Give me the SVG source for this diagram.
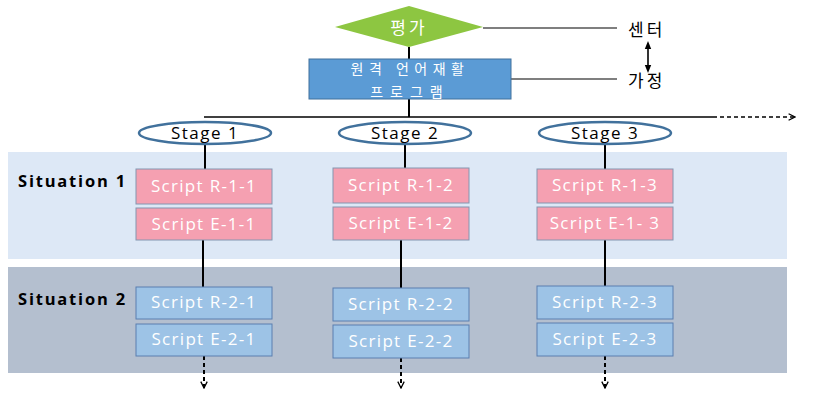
<svg xmlns="http://www.w3.org/2000/svg" width="829" height="406" viewBox="0 0 829 406">
<defs>
<marker id="ah" viewBox="0 0 10 10" refX="9" refY="5" markerWidth="8" markerHeight="8" orient="auto" markerUnits="userSpaceOnUse"><path d="M1,1 L9,5 L1,9" fill="none" stroke="#000" stroke-width="1.6"/></marker>
<marker id="ah2" viewBox="0 0 10 10" refX="5" refY="5" markerWidth="8" markerHeight="8" orient="auto-start-reverse" markerUnits="userSpaceOnUse"><path d="M0,1 L10,5 L0,9 Z" fill="#000"/></marker>
<style>
.ko{font-family:"Noto Sans CJK KR","Noto Sans",sans-serif;}
.lat{font-family:"Open Sans","Noto Sans",sans-serif;}
.pink{fill:#f5a0b1;stroke:#8496b0;stroke-width:1;}
.blue{fill:#9dc3e6;stroke:#5a7fb0;stroke-width:1;}
.st{fill:#fff;stroke:#41719c;stroke-width:2.5;}
.wt{fill:#fff;font-size:17px;text-anchor:middle;letter-spacing:1.3px;}
.bt{fill:#000;font-size:17px;text-anchor:middle;letter-spacing:1.5px;}
.sit{fill:#000;font-size:16.5px;font-weight:bold;letter-spacing:1.8px;}
.kw{fill:#fff;font-size:14px;text-anchor:middle;}
.kb{fill:#000;font-size:17px;letter-spacing:3px;}
.ln{stroke:#000;stroke-width:2;fill:none;}
.dl{stroke:#000;stroke-width:2;fill:none;stroke-dasharray:4 3;}
</style>
</defs>
<rect width="829" height="406" fill="#fff"/>
<g id="band1"><rect x="8" y="152" width="779" height="107" fill="#dde8f6"/><text x="18" y="187" class="lat sit">Situation 1</text></g>
<g id="band2"><rect x="8" y="267" width="779" height="106" fill="#b4bfcf"/><text x="18" y="305" class="lat sit">Situation 2</text></g>
<g id="connectors">
<line class="ln" x1="409" y1="47" x2="409" y2="59"/>
<line class="ln" x1="409" y1="99" x2="409" y2="117"/>
<line x1="483" y1="28" x2="617" y2="28" stroke="#000" stroke-width="1.2"/>
<line x1="511" y1="79" x2="617" y2="79" stroke="#000" stroke-width="1.2"/>
<line x1="648" y1="45" x2="648" y2="69" stroke="#000" stroke-width="1.6" marker-start="url(#ah2)" marker-end="url(#ah2)"/>
<line x1="204" y1="117" x2="713" y2="117" stroke="#000" stroke-width="1.6"/>
<line x1="713" y1="117" x2="795" y2="117" stroke="#000" stroke-width="1.4" stroke-dasharray="4 3" marker-end="url(#ah)"/>
<line class="ln" x1="205" y1="145" x2="205" y2="169"/>
<line class="ln" x1="405" y1="145" x2="405" y2="168"/>
<line class="ln" x1="605" y1="145" x2="605" y2="169"/>
<line class="ln" x1="203" y1="240" x2="203" y2="287" stroke-width="2.5"/>
<line class="ln" x1="401" y1="240" x2="401" y2="288" stroke-width="2.5"/>
<line class="ln" x1="605" y1="240" x2="605" y2="286"/>
<line class="dl" x1="204" y1="356" x2="204" y2="388" marker-end="url(#ah)"/>
<line class="dl" x1="401" y1="358" x2="401" y2="388" stroke-width="2.5" marker-end="url(#ah)"/>
<line class="dl" x1="605" y1="356" x2="605" y2="388" marker-end="url(#ah)"/>
</g>
<g id="eval"><polygon points="335,27 409,6 483,27 409,47" fill="#8dc641"/><text x="409" y="34" class="ko kw" style="font-size:17px;letter-spacing:3px">평가</text></g>
<g id="program"><rect x="309" y="59" width="202" height="40" fill="#5b9bd5" stroke="#41719c" stroke-width="1"/><text x="410" y="74" class="ko kw" style="letter-spacing:5.5px">원격 언어재활</text><text x="410" y="96.5" class="ko kw" style="letter-spacing:7px">프로그램</text></g>
<g id="center"><text x="628" y="36" class="ko kb">센터</text></g>
<g id="home"><text x="628" y="87" class="ko kb">가정</text></g>
<g id="stage1"><ellipse cx="205" cy="133" rx="66" ry="11" class="st"/><text x="205" y="139" class="lat bt">Stage 1</text></g>
<g id="stage2"><ellipse cx="405" cy="133" rx="66" ry="11" class="st"/><text x="405" y="139" class="lat bt">Stage 2</text></g>
<g id="stage3"><ellipse cx="605" cy="133" rx="66" ry="11" class="st"/><text x="605" y="139" class="lat bt">Stage 3</text></g>
<g id="r11"><rect x="136" y="169" width="136" height="35" class="pink"/><text x="204" y="192" class="lat wt">Script R-1-1</text></g>
<g id="e11"><rect x="136" y="208" width="136" height="32" class="pink"/><text x="204" y="230" class="lat wt">Script E-1-1</text></g>
<g id="r12"><rect x="333" y="168" width="136" height="35" class="pink"/><text x="401" y="191" class="lat wt">Script R-1-2</text></g>
<g id="e12"><rect x="333" y="207" width="136" height="33" class="pink"/><text x="401" y="229" class="lat wt">Script E-1-2</text></g>
<g id="r13"><rect x="537" y="169" width="136" height="34" class="pink"/><text x="605" y="191" class="lat wt">Script R-1-3</text></g>
<g id="e13"><rect x="537" y="207" width="136" height="33" class="pink"/><text x="605" y="229" class="lat wt">Script E-1- 3</text></g>
<g id="r21"><rect x="136" y="287" width="136" height="32" class="blue"/><text x="204" y="308" class="lat wt">Script R-2-1</text></g>
<g id="e21"><rect x="136" y="324" width="136" height="32" class="blue"/><text x="204" y="345" class="lat wt">Script E-2-1</text></g>
<g id="r22"><rect x="333" y="288" width="136" height="33" class="blue"/><text x="401" y="310" class="lat wt">Script R-2-2</text></g>
<g id="e22"><rect x="333" y="325" width="136" height="33" class="blue"/><text x="401" y="347" class="lat wt">Script E-2-2</text></g>
<g id="r23"><rect x="537" y="286" width="136" height="33" class="blue"/><text x="605" y="308" class="lat wt">Script R-2-3</text></g>
<g id="e23"><rect x="537" y="323" width="136" height="33" class="blue"/><text x="605" y="345" class="lat wt">Script E-2-3</text></g>
</svg>
